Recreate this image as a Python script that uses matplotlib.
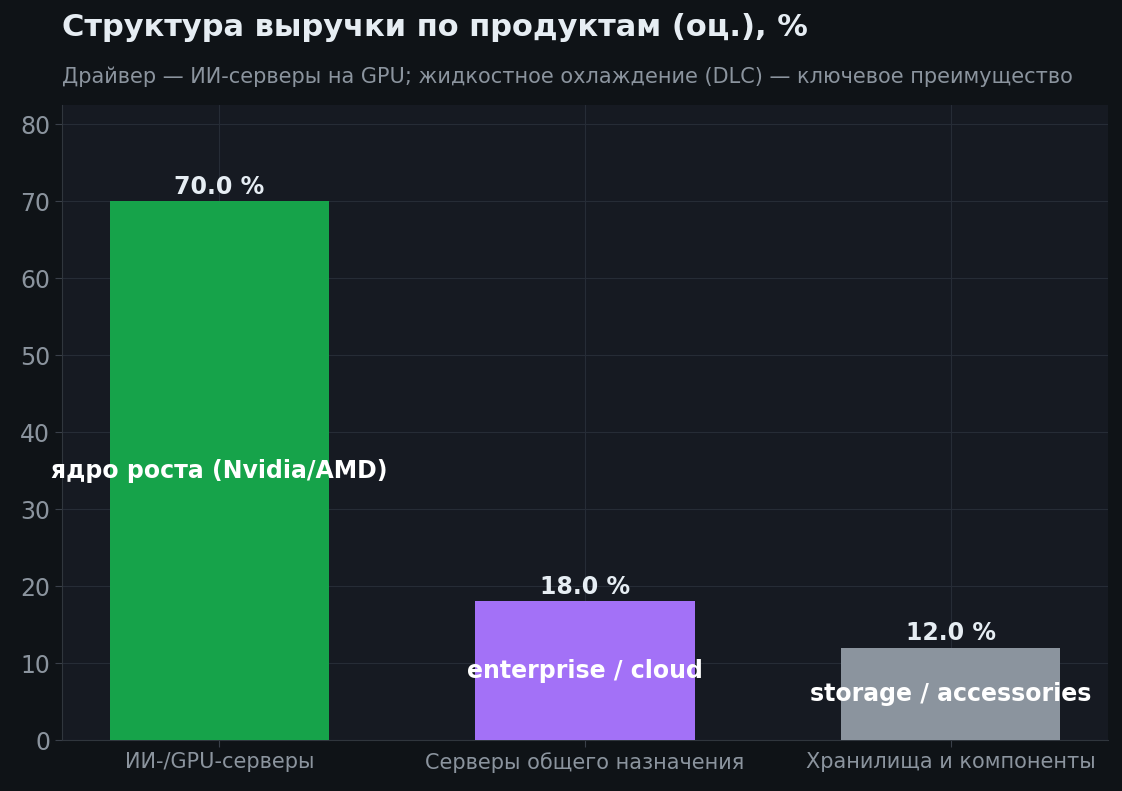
import matplotlib
matplotlib.use("Agg")
import matplotlib.pyplot as plt

categories = ["ИИ-/GPU-серверы", "Серверы общего назначения", "Хранилища и компоненты"]
values = [70.0, 18.0, 12.0]
inner_labels = ["ядро роста (Nvidia/AMD)", "enterprise / cloud", "storage / accessories"]
colors = ["#16a34a", "#a371f7", "#8b949e"]

plt.rcParams['font.family'] = ['DejaVu Sans']
fig = plt.figure(figsize=(11.22, 7.91), dpi=100, facecolor="#0f1317")
ax = fig.add_axes([62/1122, 1-740/791, (1108-62)/1122, (740-105)/791])
ax.set_facecolor("#161a22")
x = list(range(len(categories)))
ax.bar(x, values, width=0.6, color=colors, zorder=3)
for xi, v, lab in zip(x, values, inner_labels):
    ax.text(xi, v + 0.3, f"{v:.1f} %", ha="center", va="bottom", color="#e6edf3",
            fontsize=17, fontweight="bold", zorder=4)
    ax.text(xi, v / 2, lab, ha="center", va="center", color="white",
            fontsize=17, fontweight="bold", zorder=4)
ax.set_xlim(-0.43, 2.43)
ax.set_ylim(0, 82.5)
ax.set_yticks(range(0, 81, 10))
ax.set_xticks(x)
ax.set_xticklabels(categories)
ax.grid(True, color="#262c36", linewidth=0.8, zorder=0)
ax.tick_params(axis="y", colors="#8b949e", labelsize=17)
ax.tick_params(axis="x", colors="#8b949e", labelsize=15)
ax.tick_params(length=5, color="#3a404a")
for s in ["top", "right"]:
    ax.spines[s].set_visible(False)
for s in ["left", "bottom"]:
    ax.spines[s].set_color("#30363d")
fig.text(62/1122, 1-28/791, "Структура выручки по продуктам (оц.), %", color="#e6edf3",
         fontsize=22, fontweight="bold", va="center")
fig.text(62/1122, 1-77/791, "Драйвер — ИИ-серверы на GPU; жидкостное охлаждение (DLC) — ключевое преимущество",
         color="#8b949e", fontsize=15, va="center")
fig.savefig("out.png", dpi=100, facecolor=fig.get_facecolor())
